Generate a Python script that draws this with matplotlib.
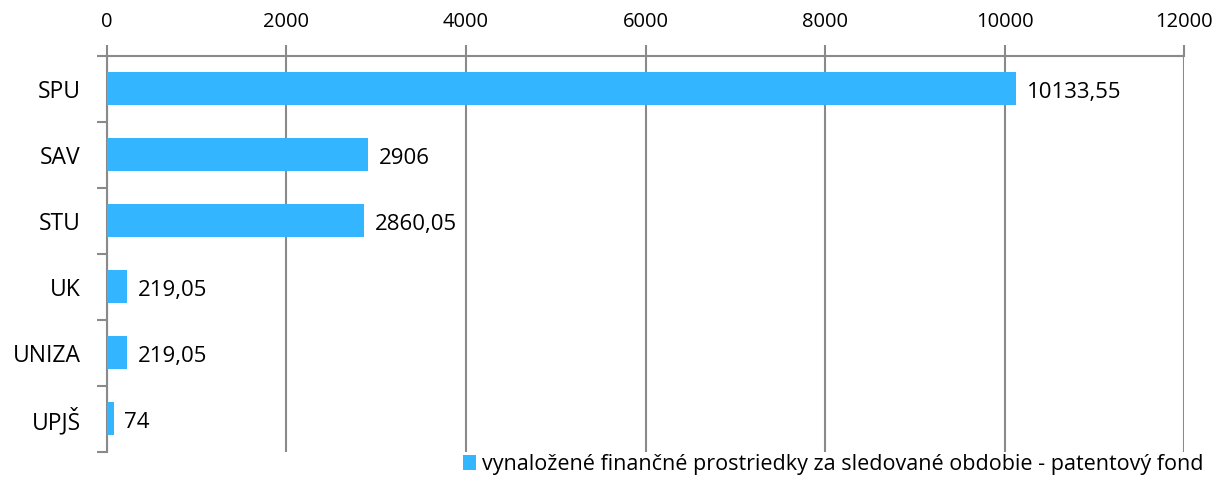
import matplotlib.pyplot as plt
from matplotlib.patches import Patch
import numpy as np

# Data
categories = ["SPU", "SAV", "STU", "UK", "UNIZA", "UPJŠ"]
values = [10133.55, 2906, 2860.05, 219.05, 219.05, 74]
value_labels = ["10133,55", "2906", "2860,05", "219,05", "219,05", "74"]
x_ticks = [0, 2000, 4000, 6000, 8000, 10000, 12000]
legend_label = "vynaložené finančné prostriedky za sledované obdobie - patentový fond"

bar_color = '#33b5ff'
grid_color = '#8a8a8a'

plt.rcParams['font.family'] = ['Open Sans', 'DejaVu Sans']

fig = plt.figure(figsize=(12.2, 4.86), dpi=100)
ax = fig.add_axes([0.0877, 0.07, 0.9705 - 0.0877, 0.8848 - 0.07])

y = np.arange(len(categories))
ax.barh(y, values, height=0.5, color=bar_color, zorder=3)

for yi, v, lab in zip(y, values, value_labels):
    ax.text(v + 120, yi + 0.06, lab, va='center', ha='left', fontsize=16, color='black', zorder=4)

ax.set_xlim(0, 12000)
ax.set_ylim(len(categories) - 0.5, -0.5)

# x axis on top
ax.xaxis.tick_top()
ax.set_xticks(x_ticks)
ax.set_xticklabels([str(t) for t in x_ticks], fontsize=14.5)
ax.tick_params(axis='x', length=8, color=grid_color, width=1.5, pad=9)

# y ticks at category boundaries, labels centered
ax.set_yticks(np.arange(len(categories) + 1) - 0.5)
ax.set_yticklabels([])
ax.set_yticks(y, minor=True)
ax.set_yticklabels(categories, minor=True, fontsize=16.5)
ax.tick_params(axis='y', which='major', length=7, color=grid_color, width=1.5)
ax.tick_params(axis='y', which='minor', length=0, pad=19)

ax.grid(axis='x', color=grid_color, linewidth=1.5, zorder=0)
for side in ['right', 'bottom']:
    ax.spines[side].set_visible(False)
ax.spines['top'].set_color(grid_color)
ax.spines['top'].set_linewidth(1.5)
ax.spines['left'].set_color(grid_color)
ax.spines['left'].set_linewidth(1.5)

handle = Patch(facecolor=bar_color, edgecolor='none')
leg = fig.legend([handle], [legend_label], loc='lower right', bbox_to_anchor=(1.002, -0.018),
                 frameon=False, handlelength=0.6, handleheight=0.7,
                 handletextpad=0.25, prop={'family': ['Open Sans', 'DejaVu Sans'], 'size': 15.5})

fig.savefig('out.png', dpi=100)
